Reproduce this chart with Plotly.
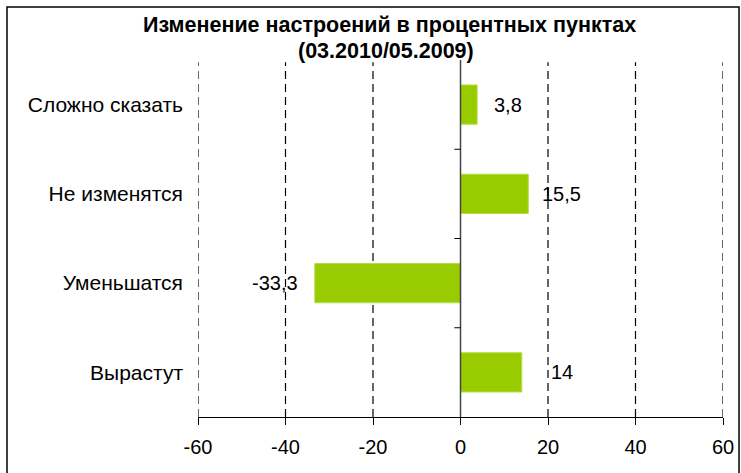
import plotly.graph_objects as go

categories = ["Вырастут", "Уменьшатся", "Не изменятся", "Сложно сказать"]
values = [14, -33.3, 15.5, 3.8]
value_labels = ["14", "-33,3", "15,5", "3,8"]
label_gap_px = [27, 15, 12, 15]
tick_vals = [-60, -40, -20, 0, 20, 40, 60]
tick_text = ["-60", "-40", "-20", "0", "20", "40", "60"]
title_lines = ["Изменение настроений в процентных пунктах", "(03.2010/05.2009)"]

FONT = "Liberation Sans, Arial, sans-serif"
GREEN = "#99CC00"

PT, PB, PL, PR = 60, 417, 198, 723  # plot area in pixels
PH, PW = PB - PT, PR - PL

fig = go.Figure()
fig.add_trace(go.Bar(
    y=categories, x=values, orientation="h",
    marker=dict(color=GREEN, line=dict(color="#B5DD45", width=1)),
    width=0.44, showlegend=False, hoverinfo="x+y",
))

for cat, v, lab, gap in zip(categories, values, value_labels, label_gap_px):
    fig.add_annotation(
        x=v, y=cat, text=lab, showarrow=False,
        xanchor="left" if v >= 0 else "right",
        xshift=gap if v >= 0 else -gap,
        font=dict(family=FONT, size=20, color="black"),
    )

# title as two centred lines
fig.add_annotation(xref="paper", yref="paper", x=(389 - PL) / PW, y=(PB - 25) / PH,
                   text="<b>" + title_lines[0] + "</b>", showarrow=False,
                   xanchor="center", yanchor="middle",
                   font=dict(family=FONT, size=21.5, color="black"))
fig.add_annotation(xref="paper", yref="paper", x=(386 - PL) / PW, y=(PB - 51) / PH,
                   text="<b>" + title_lines[1] + "</b>", showarrow=False,
                   xanchor="center", yanchor="middle",
                   font=dict(family=FONT, size=21.5, color="black"))

# vertical dashed gridlines
for t in tick_vals:
    if t == 0:
        continue
    fig.add_shape(type="line", xref="x", yref="paper", x0=t, x1=t, y0=0, y1=0.994,
                  line=dict(color="black", width=1.2, dash="8px,5px"), layer="below")

# zero axis line with small category ticks
fig.add_shape(type="line", xref="x", yref="paper", x0=0, x1=0, y0=0, y1=1.0,
              line=dict(color="#444444", width=1.5))
for i in range(1, len(categories)):
    fig.add_shape(type="line", xref="x", yref="y", x0=-1.4, x1=0, y0=i - 0.5, y1=i - 0.5,
                  line=dict(color="black", width=1))

# outer border
fig.add_shape(type="rect", xref="paper", yref="paper",
              x0=(7 - PL) / PW, x1=(739 - PL) / PW,
              y0=(PB - 480) / PH, y1=(PB - 7) / PH,
              line=dict(color="black", width=1.5), fillcolor="rgba(0,0,0,0)")

fig.update_layout(
    width=741, height=473,
    margin=dict(l=PL, r=741 - PR, t=PT, b=473 - PB, autoexpand=False),
    paper_bgcolor="white", plot_bgcolor="white",
    font=dict(family=FONT, size=20, color="black"),
    bargap=0.55,
)
fig.update_xaxes(range=[-60, 60], tickvals=tick_vals, ticktext=tick_text,
                 showgrid=False, zeroline=False, automargin=False,
                 showline=True, linecolor="black", linewidth=1,
                 ticks="outside", ticklen=7, tickcolor="black",
                 ticklabelstandoff=5,
                 tickfont=dict(family=FONT, size=20), fixedrange=True)
fig.update_yaxes(categoryorder="array", categoryarray=categories,
                 range=[-0.5, len(categories) - 0.5], automargin=False,
                 showgrid=False, zeroline=False, showline=False, ticks="",
                 ticklabelstandoff=14, tickfont=dict(family=FONT, size=21),
                 fixedrange=True)

fig.write_html("out.html", config={"displayModeBar": False},
               post_script="document.body.style.margin='0';")
